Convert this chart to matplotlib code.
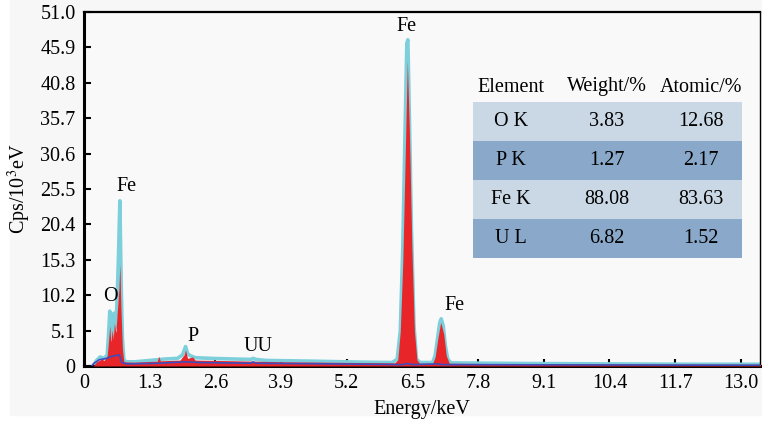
import numpy as np
import matplotlib.pyplot as plt
from matplotlib.patches import Rectangle

plt.rcParams['font.family'] = ['Liberation Serif', 'DejaVu Serif']
plt.rcParams['mathtext.fontset'] = 'stix'

env_e = [0.18, 0.25, 0.32, 0.40, 0.46, 0.49, 0.51, 0.53, 0.555, 0.575, 0.59, 0.62,
         0.65, 0.68, 0.71, 0.735, 0.76, 0.79, 0.85, 1.0, 1.3, 1.6, 1.85, 1.95, 2.01,
         2.05, 2.1, 2.2, 2.5, 3.0, 3.3, 3.35, 3.4, 3.6, 4.5, 5.5, 6.1, 6.2, 6.26,
         6.31, 6.35, 6.39, 6.41, 6.44, 6.48, 6.53, 6.58, 6.65, 6.9, 6.95, 7.0, 7.04,
         7.07, 7.11, 7.15, 7.2, 7.26, 8.0, 9.0, 10.4, 12.0, 13.4]
env_c = [0.0, 0.8, 1.3, 1.1, 1.6, 5.0, 7.9, 4.5, 6.5, 4.0, 7.6, 5.5,
         8.5, 15.0, 23.8, 12.0, 4.0, 0.8, 0.6, 0.6, 0.8, 1.0, 1.1, 1.6, 2.8,
         1.8, 1.5, 1.2, 1.1, 1.0, 0.95, 1.1, 0.95, 0.8, 0.7, 0.55, 0.5, 1.0, 5.0,
         17.0, 32.0, 46.5, 47.0, 36.0, 20.0, 6.0, 1.0, 0.5, 0.5, 1.5, 4.0, 6.2,
         6.8, 5.8, 3.0, 1.0, 0.45, 0.4, 0.35, 0.3, 0.25, 0.25]

fill_e = [0.18, 0.25, 0.35, 0.40, 0.46, 0.49, 0.51, 0.53, 0.56, 0.58, 0.60, 0.63,
          0.66, 0.69, 0.71, 0.73, 0.76, 0.79, 1.0, 1.3, 1.45, 1.48, 1.51, 1.9, 1.98,
          2.01, 2.05, 2.15, 2.2, 3.0, 4.0, 5.5, 6.15, 6.21, 6.26, 6.31, 6.36, 6.40,
          6.44, 6.49, 6.54, 6.59, 6.64, 6.9, 6.95, 7.0, 7.06, 7.12, 7.17, 7.23,
          9.0, 13.4]
fill_c = [0.0, 0.6, 1.0, 0.8, 1.5, 4.0, 5.8, 3.5, 5.2, 3.8, 6.2, 4.8,
          8.0, 11.0, 14.7, 8.5, 2.5, 0.6, 0.55, 0.65, 0.7, 1.4, 0.75, 0.85, 1.6,
          2.3, 1.1, 1.3, 0.85, 0.75, 0.6, 0.5, 0.45, 0.9, 5.0, 15.0, 31.0, 44.0,
          34.0, 17.0, 5.0, 0.9, 0.4, 0.4, 1.3, 3.8, 6.3, 4.6, 1.5, 0.4,
          0.3, 0.25]

bkg_e = [0.15, 0.2, 0.3, 0.45, 0.55, 0.70, 0.75, 0.85, 1.5, 2.0, 2.3, 3.3, 3.35,
         3.4, 5.0, 6.3, 6.4, 6.5, 7.0, 7.1, 13.4]
bkg_c = [0.0, 0.4, 0.9, 1.1, 1.4, 1.6, 0.5, 0.3, 0.4, 0.6, 0.5, 0.4, 0.6,
         0.4, 0.3, 0.2, 0.35, 0.2, 0.3, 0.2, 0.1]

# peak labels
peak_names = ['O', 'Fe', 'P', 'UU', 'Fe', 'Fe']
peak_e = [0.52, 0.84, 2.15, 3.45, 6.38, 7.33]
peak_c = [8.6, 24.5, 2.9, 1.5, 47.6, 7.3]

# quantification table
elements = ['O K', 'P K', 'Fe K', 'U L']
weight = ['3.83', '1.27', '88.08', '6.82']
atomic = ['12.68', '2.17', '83.63', '1.52']

xticks = [0, 1.3, 2.6, 3.9, 5.2, 6.5, 7.8, 9.1, 10.4, 11.7, 13.0]
yticks = [0, 5.1, 10.2, 15.3, 20.4, 25.5, 30.6, 35.7, 40.8, 45.9, 51.0]

fig = plt.figure(figsize=(7.62, 4.23), dpi=100, facecolor='white')
fig.patches.append(Rectangle((10 / 762, 0.018), 1, 1, transform=fig.transFigure,
                             color='#f7f7f7', zorder=-10))
ax = fig.add_axes([84 / 762, 57 / 423, 676 / 762, 354 / 423])
ax.set_facecolor('#f9f9f9')

ax.plot(env_e, env_c, color='#7ccfdb', lw=2.6, zorder=2, solid_joinstyle='round')
ax.fill_between(fill_e, 0, fill_c, color='#e8262a', lw=0, zorder=3)
ax.plot(bkg_e, bkg_c, color='#3d4bbd', lw=1.2, zorder=4)

for name, e, c in zip(peak_names, peak_e, peak_c):
    ax.text(e, c, name, ha='center', va='bottom', fontsize=14.5, zorder=5)

ax.set_xlim(0, 13.38)
ax.set_ylim(0, 51.0)
ax.set_xticks(xticks)
ax.set_xticklabels(['0' if t == 0 else f'{t:.1f}' for t in xticks])
ax.set_yticks(yticks)
ax.set_yticklabels(['0' if t == 0 else f'{t:.1f}' for t in yticks])
ax.tick_params(direction='in', length=5, width=1.5, labelsize=14.5, pad=6)
ax.set_xlabel('Energy/keV', fontsize=14.5, labelpad=5)
ax.set_ylabel('Cps/10$^3$eV', fontsize=14.5, labelpad=5)
for side, w in [('left', 2.2), ('bottom', 2.2), ('top', 1.6), ('right', 1.0)]:
    ax.spines[side].set_linewidth(w)

# element table drawn in pixel-derived axes fractions
tx0, tx1 = (473 - 84) / 676, (742 - 84) / 676
row_h = 39 / 354
top = (366 - 102) / 354
col_x = [(511 - 84) / 676, (607 - 84) / 676, (701 - 84) / 676]
for i, hdr in enumerate(['Element', 'Weight/%', 'Atomic/%']):
    ax.text(col_x[i], (366 - 87) / 354, hdr, transform=ax.transAxes,
            ha='center', va='center', fontsize=14.5, zorder=6)
for r in range(len(elements)):
    y0 = top - (r + 1) * row_h
    ax.add_patch(Rectangle((tx0, y0), tx1 - tx0, row_h, transform=ax.transAxes,
                           color='#cad8e6' if r % 2 == 0 else '#8aa8c9',
                           lw=0, zorder=5))
    for i, s in enumerate([elements[r], weight[r], atomic[r]]):
        ax.text(col_x[i], y0 + row_h / 2, s, transform=ax.transAxes,
                ha='center', va='center', fontsize=14.5, zorder=6)

fig.savefig('out.png', dpi=100)
